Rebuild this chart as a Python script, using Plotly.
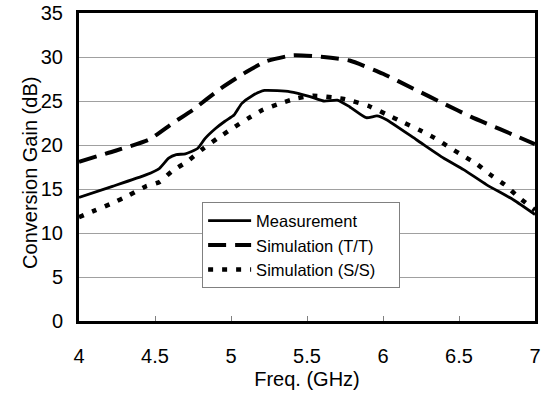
import plotly.graph_objects as go

# Measurement
meas_x = [4.00, 4.22, 4.44, 4.53, 4.59, 4.64, 4.70, 4.78, 4.83, 4.90, 4.96, 5.02, 5.07, 5.14, 5.22,
          5.39, 5.52, 5.61, 5.70, 5.78, 5.89, 5.96, 6.02, 6.22, 6.40, 6.53, 6.68, 6.86, 7.00]
meas_y = [14.05, 15.3, 16.6, 17.35, 18.5, 18.9, 19.0, 19.6, 20.75, 21.9, 22.7, 23.4, 24.7, 25.6, 26.2,
          26.05, 25.5, 25.0, 25.1, 24.35, 23.1, 23.3, 22.9, 20.6, 18.5, 17.2, 15.5, 13.75, 12.1]

# Simulation (T/T)
tt_x = [4.00, 4.24, 4.46, 4.61, 4.75, 4.93, 5.10, 5.23, 5.41, 5.61, 5.78, 6.00, 6.20, 6.40, 6.58, 6.77, 7.00]
tt_y = [18.1, 19.35, 20.6, 22.4, 24.0, 26.4, 28.3, 29.5, 30.2, 30.0, 29.6, 28.1, 26.4, 24.7, 23.2, 21.8, 20.1]

# Simulation (S/S)
ss_x = [4.00, 4.11, 4.22, 4.33, 4.44, 4.53, 4.61, 4.71, 4.81, 4.91, 5.01, 5.11, 5.21, 5.32, 5.43, 5.54,
        5.72, 5.80, 5.91, 6.02, 6.13, 6.24, 6.34, 6.44, 6.53, 6.62, 6.70, 6.80, 6.89, 7.00]
ss_y = [11.8, 12.6, 13.4, 14.3, 15.3, 15.8, 17.0, 18.1, 19.5, 20.75, 21.9, 23.0, 24.0, 24.7, 25.3, 25.6,
        25.3, 25.0, 24.4, 23.5, 22.6, 21.7, 20.8, 19.7, 18.75, 17.8, 16.7, 15.5, 14.1, 12.6]

series_names = ["Measurement", "Simulation (T/T)", "Simulation (S/S)"]

x_ticks = [4, 4.5, 5, 5.5, 6, 6.5, 7]
x_tick_labels = ["4", "4.5", "5", "5.5", "6", "6.5", "7"]
y_ticks = [0, 5, 10, 15, 20, 25, 30, 35]

FONT = "Liberation Sans, Arial, sans-serif"
PAD = "\u00a0" * 4

fig = go.Figure()
fig.add_trace(go.Scatter(x=meas_x, y=meas_y, mode="lines", name=series_names[0],
                         line=dict(color="black", width=2.8, shape="spline", smoothing=0.5)))
fig.add_trace(go.Scatter(x=tt_x, y=tt_y, mode="lines", name=series_names[1],
                         line=dict(color="black", width=4, dash="18px,9px", shape="spline", smoothing=0.5)))
fig.add_trace(go.Scatter(x=ss_x, y=ss_y, mode="lines", name=series_names[2] + PAD,
                         line=dict(color="black", width=4.5, dash="5px,9px", shape="spline", smoothing=0.5)))

fig.update_layout(
    width=547, height=396,
    margin=dict(l=79, r=12, t=13, b=75, autoexpand=False),
    paper_bgcolor="white", plot_bgcolor="white",
    font=dict(family=FONT, size=20, color="black"),
    showlegend=True,
    legend=dict(x=0.27, y=0.385, xanchor="left", yanchor="top",
                bgcolor="white", bordercolor="#808080", borderwidth=1,
                font=dict(size=16.5, family=FONT), itemwidth=43, tracegroupgap=0),
    annotations=[dict(text="Conversion Gain (dB)", textangle=-90, xref="paper", yref="paper",
                      x=-0.108, y=0.48, xanchor="center", yanchor="middle", showarrow=False,
                      font=dict(size=20, family=FONT))],
)
fig.update_xaxes(range=[4, 7], tickvals=x_ticks, ticktext=x_tick_labels,
                 showline=True, linewidth=3, linecolor="black", mirror=True,
                 ticks="inside", ticklen=5, tickcolor="#808080", tickwidth=1,
                 showgrid=False, zeroline=False, automargin=False,
                 title=dict(text="Freq. (GHz)", font=dict(size=20), standoff=6),
                 ticklabelstandoff=15)
fig.update_yaxes(range=[0, 35], tickvals=y_ticks,
                 showline=True, linewidth=3, linecolor="black", mirror=True,
                 ticks="", showgrid=True, gridcolor="#a0a0a0", gridwidth=1,
                 zeroline=False, automargin=False,
                 ticklabelstandoff=9)

fig.write_html("out.html")
